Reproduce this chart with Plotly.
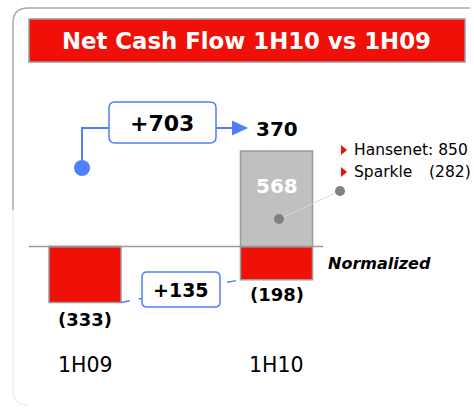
import plotly.graph_objects as go

# ---- data ----
categories = ["1H09", "1H10"]
reported = [-333, -198]          # red bars (reported net cash flow)
normalization = [0, 568]         # gray bar (normalization items)
normalized_total = 370
delta_normalized = "+703"
delta_reported = "+135"
norm_items = ["Hansenet: 850", "Sparkle"]
norm_item_values = ["", "(282)"]
title_text = "Net Cash Flow 1H10 vs 1H09"

W, H = 474, 415
RED = "#F01008"
BLUE = "#5080F8"
GRAY_FILL = "#C0C0C0"
GRAY_LINE = "#9A9A9A"
FONT = "DejaVu Sans, Verdana, sans-serif"

# pixel helpers for decorative (non-data) elements
def px(x):
    return x / W

def py(y):
    return 1 - y / H

def P(x, y):
    return f"{px(x):.5f},{py(y):.5f}"

def rrect(x0, y0, x1, y1, r):
    return (f"M {P(x0+r,y0)} L {P(x1-r,y0)} Q {P(x1,y0)} {P(x1,y0+r)} "
            f"L {P(x1,y1-r)} Q {P(x1,y1)} {P(x1-r,y1)} L {P(x0+r,y1)} "
            f"Q {P(x0,y1)} {P(x0,y1-r)} L {P(x0,y0+r)} Q {P(x0,y0)} {P(x0+r,y0)} Z")

# axis scaling: category index -> px, value -> px
x0_px, step_px = 85.0, 191.5
zero_px, k = 246.5, 1 / 0.168
xr = [-x0_px / step_px, (W - x0_px) / step_px]
yr = [-(H - zero_px) * k, zero_px * k]
bar_w = 72 / step_px

xs = list(range(len(categories)))

fig = go.Figure()
fig.add_trace(go.Bar(x=xs, y=reported, width=bar_w, marker=dict(color=RED, line=dict(color=GRAY_LINE, width=1.5)),
                     hoverinfo="skip"))
fig.add_trace(go.Bar(x=xs, y=normalization, width=bar_w,
                     marker=dict(color=GRAY_FILL, line=dict(color=GRAY_LINE, width=1.5)), hoverinfo="skip"))

shapes = []
# frame
shapes.append(dict(type="path", xref="paper", yref="paper",
                   path=f"M {P(13,210)} L {P(13,23)} Q {P(13,8)} {P(28,8)} L {P(470,8)}",
                   line=dict(color="#A8A8A8", width=1.5)))
shapes.append(dict(type="path", xref="paper", yref="paper",
                   path=f"M {P(13,210)} L {P(13,390)} Q {P(13,405)} {P(28,405)}",
                   line=dict(color="#F0F0F0", width=1.5)))
# title box
shapes.append(dict(type="rect", xref="paper", yref="paper", x0=px(29), x1=px(465), y0=py(62), y1=py(19),
                   fillcolor=RED, line=dict(color=GRAY_LINE, width=1.5)))
# zero line
shapes.append(dict(type="line", xref="paper", yref="y", x0=px(29), x1=px(323), y0=0, y1=0,
                   line=dict(color=GRAY_LINE, width=1.5), layer="above"))
# dashed connector between bar bottoms
shapes.append(dict(type="line", xref="x", yref="y", x0=xs[0] + bar_w / 2, y0=reported[0],
                   x1=xs[1] - bar_w / 2, y1=reported[1], line=dict(color=BLUE, width=1.5, dash="dash"),
                   layer="above"))
# +135 box
shapes.append(dict(type="path", xref="paper", yref="paper", path=rrect(142, 272, 220, 307, 5),
                   fillcolor="white", line=dict(color=BLUE, width=1.5), layer="above"))
# blue elbow connector, +703 box, arrow
shapes.append(dict(type="path", xref="paper", yref="paper",
                   path=f"M {P(82,168)} L {P(82,128)} L {P(109,128)}",
                   line=dict(color=BLUE, width=2), layer="above"))
shapes.append(dict(type="circle", xref="paper", yref="paper", x0=px(74), x1=px(90), y0=py(176), y1=py(160),
                   fillcolor=BLUE, line=dict(color=BLUE, width=0), layer="above"))
shapes.append(dict(type="path", xref="paper", yref="paper", path=rrect(109, 102, 216, 143, 6),
                   fillcolor="white", line=dict(color=BLUE, width=1.5), layer="above"))
shapes.append(dict(type="line", xref="paper", yref="paper", x0=px(216), x1=px(233), y0=py(128), y1=py(128),
                   line=dict(color=BLUE, width=2), layer="above"))
shapes.append(dict(type="path", xref="paper", yref="paper",
                   path=f"M {P(232,120.5)} L {P(248,128)} L {P(232,135.5)} Z",
                   fillcolor=BLUE, line=dict(color=BLUE, width=0), layer="above"))
# gray callout dots and leader
shapes.append(dict(type="line", xref="paper", yref="paper", x0=px(279), y0=py(219), x1=px(340), y1=py(191),
                   line=dict(color="#D8D8D8", width=1), layer="above"))
for cx, cy in [(279, 219), (340, 191)]:
    shapes.append(dict(type="circle", xref="paper", yref="paper", x0=px(cx - 5), x1=px(cx + 5),
                       y0=py(cy + 5), y1=py(cy - 5), fillcolor="#808080", line=dict(width=0), layer="above"))
# red bullet triangles
for cy in [150, 172]:
    shapes.append(dict(type="path", xref="paper", yref="paper",
                       path=f"M {P(341,cy-5)} L {P(347,cy)} L {P(341,cy+5)} Z",
                       fillcolor=RED, line=dict(width=0), layer="above"))

ann = []
def A(x, y, text, size, color="black", bold=True, italic=False, xanchor="center", xref="paper", yref="paper",
      yshift=0, yanchor="middle"):
    t = text
    if bold:
        t = f"<b>{t}</b>"
    if italic:
        t = f"<i>{t}</i>"
    ann.append(dict(x=x, y=y, xref=xref, yref=yref, text=t, showarrow=False, xanchor=xanchor, yanchor=yanchor,
                    yshift=yshift, font=dict(family=FONT, size=size, color=color)))

A(px(247), py(41), title_text, 22.8, color="white")
A(px(162), py(123), delta_normalized, 22)
A(px(181), py(290), delta_reported, 19)
# value labels tied to data
A(xs[1], normalization[1], str(normalized_total), 20, xref="x", yref="y", yanchor="bottom", yshift=8)
A(xs[1], normalization[1], str(normalization[1]), 20, color="white", xref="x", yref="y", yanchor="top", yshift=-21)
A(xs[0], reported[0], f"({abs(reported[0])})", 18, xref="x", yref="y", yanchor="top", yshift=-5)
A(xs[1], reported[1], f"({abs(reported[1])})", 18, xref="x", yref="y", yanchor="top", yshift=-2)
# categories
for i, c in enumerate(categories):
    A(xs[i], py(365), c, 20.5, bold=False, xref="x")
# normalization items
A(px(352), py(150), norm_items[0], 15.5, bold=False, xanchor="left")
A(px(352), py(172), norm_items[1], 15.5, bold=False, xanchor="left")
A(px(473), py(172), norm_item_values[1], 15.5, bold=False, xanchor="right")
A(px(326), py(263), "Normalized", 16, italic=True, xanchor="left")

fig.update_layout(
    width=W, height=H, margin=dict(l=0, r=0, t=0, b=0),
    paper_bgcolor="white", plot_bgcolor="white",
    barmode="relative", showlegend=False,
    xaxis=dict(range=xr, visible=False, fixedrange=True),
    yaxis=dict(range=yr, visible=False, fixedrange=True),
    shapes=shapes, annotations=ann,
)
fig.write_html("out.html", config={"displayModeBar": False},
               post_script="document.body.style.margin='0';document.body.style.overflow='hidden';")
